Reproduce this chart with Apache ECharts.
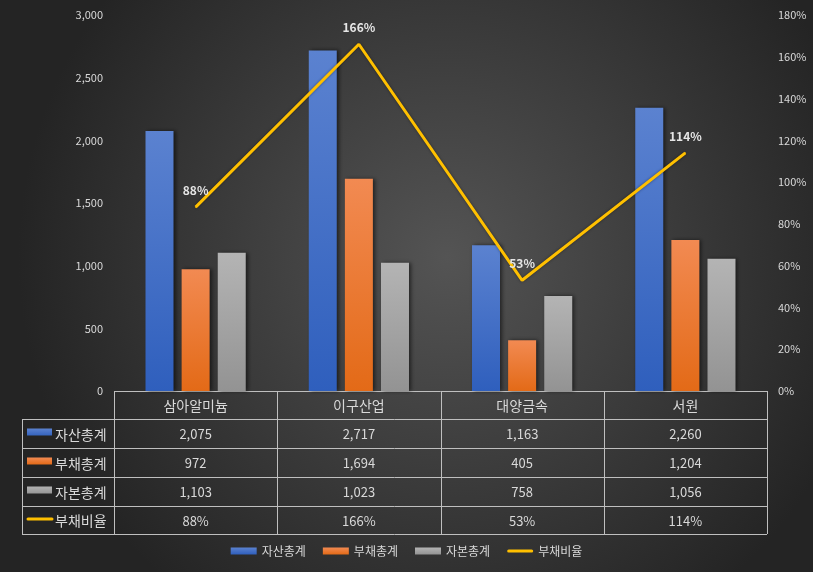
<!DOCTYPE html>
<html><head><meta charset="utf-8">
<script src="https://cdn.jsdelivr.net/npm/echarts@6/dist/echarts.min.js"></script>
<style>html,body{margin:0;padding:0;background:#2a2a2a}#c{width:813px;height:572px}</style>
</head><body><div id="c"></div>
<script>
const categories = ['삼아알미늄', '이구산업', '대양금속', '서원'];
const assets = [2075, 2717, 1163, 2260];
const debts = [972, 1694, 405, 1204];
const equity = [1103, 1023, 758, 1056];
const ratio = [88, 166, 53, 114];
const seriesNames = ['자산총계', '부채총계', '자본총계', '부채비율'];
const seriesColors = ['#4472c4', '#ed7d31', '#a5a5a5', '#ffc000'];

const FONT = '"Noto Sans CJK KR", "Noto Sans", sans-serif';
const TXT = '#d9d9d9';
const G = {left: 114, right: 46, top: 15, bottom: 181};

function grad(top, bottom) {
  return new echarts.graphic.LinearGradient(0, 0, 0, 1, [{offset: 0, color: top}, {offset: 1, color: bottom}]);
}
const fmt = v => v.toLocaleString('en-US');

const chart = echarts.init(document.getElementById('c'), null, {renderer: 'canvas'});
const W = 813, H = 572;
const plotW = W - G.left - G.right;
const plotBottom = H - G.bottom;
const colW = plotW / categories.length;
const rowH = [28, 29, 29, 29, 28];
const tableLeft = 22;
const lineColor = '#bfbfbf';

const graphics = [];
const ys = [plotBottom];
rowH.forEach(h => ys.push(ys[ys.length - 1] + h));
const right = G.left + plotW;
ys.forEach((y, i) => {
  graphics.push({type: 'line', shape: {x1: i === 0 ? G.left : tableLeft, y1: y + 0.5, x2: right, y2: y + 0.5}, style: {stroke: lineColor, lineWidth: 1}});
});
for (let i = 0; i <= categories.length; i++) {
  const x = Math.round(G.left + i * colW) + 0.5;
  graphics.push({type: 'line', shape: {x1: x, y1: ys[0], x2: x, y2: ys[ys.length - 1]}, style: {stroke: lineColor, lineWidth: 1}});
}
graphics.push({type: 'line', shape: {x1: tableLeft + 0.5, y1: ys[1], x2: tableLeft + 0.5, y2: ys[ys.length - 1]}, style: {stroke: lineColor, lineWidth: 1}});
categories.forEach((c, i) => {
  graphics.push({type: 'text', x: G.left + (i + 0.5) * colW, y: (ys[0] + ys[1]) / 2 + 1,
    style: {text: c, fill: TXT, font: '14px ' + FONT, align: 'center', verticalAlign: 'middle'}});
});
const rows = [assets.map(fmt), debts.map(fmt), equity.map(fmt), ratio.map(v => v + '%')];
rows.forEach((r, ri) => {
  const cy = (ys[ri + 1] + ys[ri + 2]) / 2 + 1;
  if (ri < 3) {
    graphics.push({type: 'rect', shape: {x: 27, y: cy - 6, width: 25, height: 7},
      style: {fill: grad(['#5b82d0', '#f28a52', '#b2b2b2'][ri], ['#3564bf', '#e36a17', '#969696'][ri])}});
  } else {
    graphics.push({type: 'line', shape: {x1: 28, y1: cy - 2, x2: 52, y2: cy - 2}, style: {stroke: seriesColors[3], lineWidth: 3, lineCap: 'round'}});
  }
  graphics.push({type: 'text', x: 55, y: cy, style: {text: seriesNames[ri], fill: TXT, font: '14px ' + FONT, align: 'left', verticalAlign: 'middle'}});
  r.forEach((v, ci) => {
    graphics.push({type: 'text', x: G.left + (ci + 0.5) * colW, y: cy,
      style: {text: v, fill: TXT, font: '13px ' + FONT, align: 'center', verticalAlign: 'middle'}});
  });
});

const barShadow = {shadowBlur: 4, shadowColor: 'rgba(0,0,0,0.55)', shadowOffsetX: 2, shadowOffsetY: 0};

chart.setOption({
  backgroundColor: new echarts.graphic.RadialGradient(0.55, 0.45, 0.75, [
    {offset: 0, color: '#545454'}, {offset: 1, color: '#242424'}]),
  textStyle: {fontFamily: FONT},
  animation: false,
  grid: G,
  legend: {
    bottom: 10, left: 'center', itemWidth: 26, itemHeight: 7, itemGap: 17,
    textStyle: {color: TXT, fontSize: 12, fontFamily: FONT},
    data: [
      {name: seriesNames[0], icon: 'rect'},
      {name: seriesNames[1], icon: 'rect'},
      {name: seriesNames[2], icon: 'rect'},
      {name: seriesNames[3], icon: 'path://M1.5,0 L24.5,0 A1.5,1.5 0 0 1 24.5,3 L1.5,3 A1.5,1.5 0 0 1 1.5,0 Z'}
    ]
  },
  xAxis: {
    type: 'category', data: categories,
    axisLine: {show: false}, axisTick: {show: false}, axisLabel: {show: false}, splitLine: {show: false}
  },
  yAxis: [
    {type: 'value', min: 0, max: 3000, interval: 500,
      axisLine: {show: false}, axisTick: {show: false}, splitLine: {show: false},
      axisLabel: {color: TXT, fontSize: 11, margin: 11, formatter: v => fmt(v)}},
    {type: 'value', min: 0, max: 180, interval: 20,
      axisLine: {show: false}, axisTick: {show: false}, splitLine: {show: false},
      axisLabel: {color: TXT, fontSize: 11, margin: 11, formatter: v => v + '%'}}
  ],
  series: [
    {name: seriesNames[0], type: 'bar', data: assets, barWidth: 28, barGap: '29%',
      itemStyle: Object.assign({color: grad('#5b82d0', '#2f5fbd')}, barShadow)},
    {name: seriesNames[1], type: 'bar', data: debts, barWidth: 28, barGap: '29%',
      itemStyle: Object.assign({color: grad('#f28a52', '#e36a17')}, barShadow)},
    {name: seriesNames[2], type: 'bar', data: equity, barWidth: 28, barGap: '29%',
      itemStyle: Object.assign({color: grad('#b4b4b4', '#939393')}, barShadow)},
    {name: seriesNames[3], type: 'line', yAxisIndex: 1, data: ratio, symbol: 'circle', symbolSize: 1, showSymbol: true, z: 5,
      lineStyle: {color: seriesColors[3], width: 3, shadowBlur: 3, shadowColor: 'rgba(0,0,0,0.4)'},
      itemStyle: {color: seriesColors[3]},
      label: {show: true, position: 'top', distance: 10, color: '#e6e6e6', fontSize: 12, fontWeight: 'bold', formatter: p => p.value + '%'}}
  ],
  graphic: graphics
});
</script>
</body></html>
